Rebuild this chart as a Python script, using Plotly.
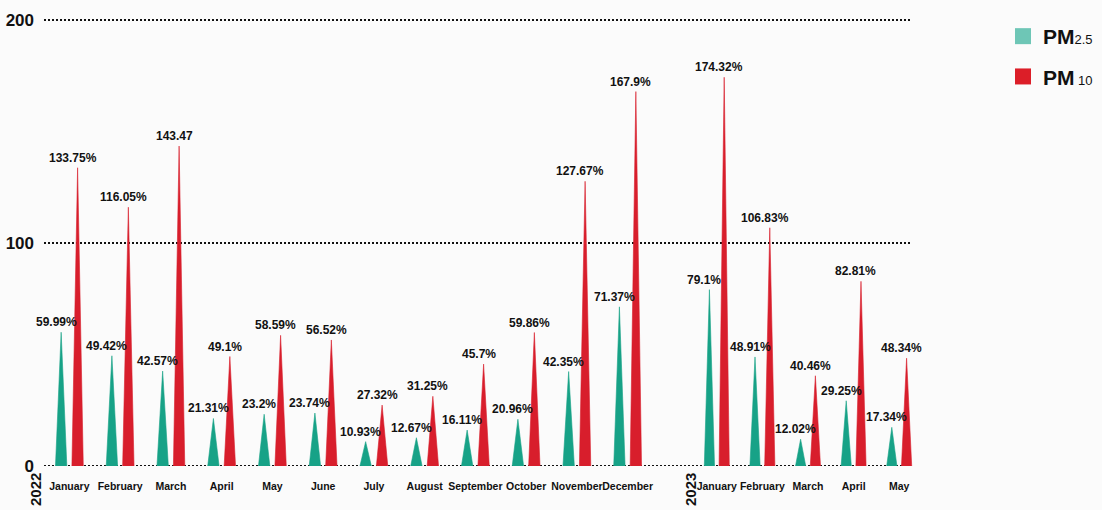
import plotly.graph_objects as go

# ---------------- data ----------------
months_2022 = ["January", "February", "March", "April", "May", "June", "July",
               "August", "September", "October", "November", "December"]
months_2023 = ["January", "February", "March", "April", "May"]

pm25_2022 = [59.99, 49.42, 42.57, 21.31, 23.2, 23.74, 10.93, 12.67, 16.11, 20.96, 42.35, 71.37]
pm10_2022 = [133.75, 116.05, 143.47, 49.1, 58.59, 56.52, 27.32, 31.25, 45.7, 59.86, 127.67, 167.9]
pm25_2023 = [79.1, 48.91, 12.02, 29.25, 17.34]
pm10_2023 = [174.32, 106.83, 40.46, 82.81, 48.34]

pm25_2022_labels = ["59.99%", "49.42%", "42.57%", "21.31%", "23.2%", "23.74%", "10.93%",
                    "12.67%", "16.11%", "20.96%", "42.35%", "71.37%"]
pm10_2022_labels = ["133.75%", "116.05%", "143.47", "49.1%", "58.59%", "56.52%", "27.32%",
                    "31.25%", "45.7%", "59.86%", "127.67%", "167.9%"]
pm25_2023_labels = ["79.1%", "48.91%", "12.02%", "29.25%", "17.34%"]
pm10_2023_labels = ["174.32%", "106.83%", "40.46%", "82.81%", "48.34%"]

y_ticks = [0, 100, 200]
years = ["2022", "2023"]

# ---------------- style ----------------
W, H = 1102, 510
TEAL = "#17a287"
RED = "#d81e2c"
TEAL_LEG = "#6ec6b6"
RED_LEG = "#dc1e28"
BG = "#fbfbfb"
INK = "#111111"
COND = "Liberation Sans, Arial, sans-serif"
SANS = "Liberation Sans, Arial, sans-serif"


def cfont(size, weight="bold"):
    return dict(family=COND, size=size, color=INK, weight=weight)


OFF = 0.162      # half distance between the two spikes of one month (in slot units)
HALF = 0.112     # half base width of a spike (in slot units)

M_T, M_B = 10, 44
Y_MAX = (H - M_T - M_B) / 446 * 200  # 200 lands ~20px from top


def px_x(p):
    return p / W


def spikes(values, offset):
    xs, ys = [], []
    for i, v in enumerate(values):
        c = i + offset
        xs += [c - HALF, c, c + HALF, c - HALF, None]
        ys += [0, v, 0, 0, None]
    return xs, ys


fig = go.Figure()

series = [
    ("x", pm25_2022, -OFF, TEAL, pm25_2022_labels),
    ("x", pm10_2022, OFF, RED, pm10_2022_labels),
    ("x2", pm25_2023, -OFF, TEAL, pm25_2023_labels),
    ("x2", pm10_2023, OFF, RED, pm10_2023_labels),
]

annotations = []
for xa, vals, off, col, labs in series:
    xs, ys = spikes(vals, off)
    fig.add_trace(go.Scatter(
        x=xs, y=ys, xaxis=xa, yaxis="y", mode="lines", fill="toself",
        fillcolor=col, line=dict(color=col, width=0.6), showlegend=False,
        hoverinfo="skip"))
    for i, (v, t) in enumerate(zip(vals, labs)):
        annotations.append(dict(
            x=i + off, y=v, xref=xa, yref="y", text=t, showarrow=False,
            xanchor="center", yanchor="bottom", xshift=-5, yshift=1,
            font=cfont(12)))

# legend-only entries
fig.add_trace(go.Scatter(
    x=[None], y=[None], mode="markers", legendgroup="a",
    name="PM<span style='font-size:13px;font-weight:normal'>2.5</span>",
    marker=dict(symbol="square", size=16, color=TEAL_LEG)))
fig.add_trace(go.Scatter(
    x=[None], y=[None], mode="markers", legendgroup="b",
    name="PM<span style='font-size:13px;font-weight:normal'> 10</span>",
    marker=dict(symbol="square", size=16, color=RED_LEG)))

# year labels
for yr, xp in zip(years, [35, 690]):
    annotations.append(dict(
        x=px_x(xp), y=-(490 - (H - M_B)) / (H - M_T - M_B), xref="paper", yref="paper",
        text=f"<b>{yr}</b>", textangle=-90, showarrow=False,
        xanchor="center", yanchor="middle",
        font=dict(family=SANS, size=15, color=INK)))

# dotted reference lines
shapes = []
for v in y_ticks:
    shapes.append(dict(
        type="line", xref="paper", yref="y", x0=px_x(44), x1=px_x(910), y0=v, y1=v,
        line=dict(color=INK, width=2, dash="2px,2px"), layer="below"))

xa_common = dict(showgrid=False, zeroline=False, showline=False, ticks="",
                 tickfont=cfont(10.5), tickangle=0,
                 ticklabelstandoff=12, fixedrange=True)

fig.update_layout(
    width=W, height=H,
    margin=dict(l=0, r=0, t=M_T, b=M_B, autoexpand=False),
    paper_bgcolor=BG, plot_bgcolor=BG,
    xaxis=dict(domain=[px_x(44), px_x(653)], range=[-0.5, len(months_2022) - 0.5],
               tickvals=list(range(len(months_2022))), ticktext=months_2022,
               anchor="y", **xa_common),
    xaxis2=dict(domain=[px_x(694), px_x(922)], range=[-0.5, len(months_2023) - 0.5],
                tickvals=list(range(len(months_2023))), ticktext=months_2023,
                anchor="y", **xa_common),
    yaxis=dict(range=[0, Y_MAX], tickvals=y_ticks, ticktext=[str(v) for v in y_ticks],
               showgrid=False, zeroline=False, showline=False, ticks="",
               ticklabelstandoff=9, automargin=False, fixedrange=True,
               tickfont=cfont(17)),
    showlegend=True,
    legend=dict(xref="container", yref="container", x=1003 / W, y=1 - 16 / H,
                xanchor="left", yanchor="top", traceorder="grouped", tracegroupgap=10,
                font=cfont(21), bgcolor="rgba(0,0,0,0)",
                itemwidth=30),
    annotations=annotations,
    shapes=shapes,
)

fig.write_html("out.html", config={"displayModeBar": False},
               post_script="document.body.style.margin='0';")
